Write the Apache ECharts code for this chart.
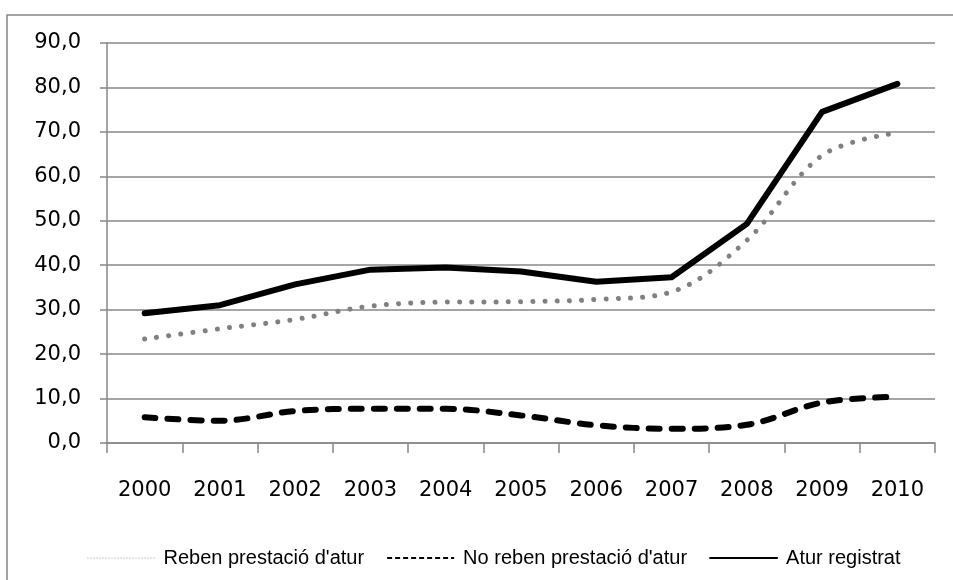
<!DOCTYPE html>
<html>
<head>
<meta charset="utf-8">
<title>Atur registrat 2000-2010</title>
<script src="https://cdn.jsdelivr.net/npm/echarts@6/dist/echarts.min.js"></script>
<style>
  html, body { margin: 0; padding: 0; background: #ffffff; }
  #chart { width: 953px; height: 580px; }
</style>
</head>
<body>
<div id="chart"></div>
<script>
// Years on the category axis
const years = ['2000', '2001', '2002', '2003', '2004', '2005', '2006', '2007', '2008', '2009', '2010'];

// Series values
const rebenPrestacio = [23.4, 25.7, 27.8, 30.8, 31.7, 31.8, 32.3, 34.0, 45.6, 64.7, 69.8];
const noRebenPrestacio = [5.8, 5.0, 7.2, 7.7, 7.7, 6.2, 4.0, 3.2, 4.1, 9.1, 10.4];
const aturRegistrat = [29.2, 31.0, 35.7, 39.0, 39.5, 38.6, 36.3, 37.3, 49.3, 74.5, 80.8];

// Value axis tick labels (comma decimal separator)
const yTickLabels = ['0,0', '10,0', '20,0', '30,0', '40,0', '50,0', '60,0', '70,0', '80,0', '90,0'];

const seriesNames = ["Reben prestació d'atur", "No reben prestació d'atur", 'Atur registrat'];

const gray = '#878787';
const axisFont = 'DejaVu Sans';
// legend samples are plain line strokes, no marker
const noMarker = { color: 'rgba(0,0,0,0)', borderWidth: 0, opacity: 0 };

const chart = echarts.init(document.getElementById('chart'), null, { renderer: 'canvas' });

chart.setOption({
  backgroundColor: '#ffffff',
  animation: false,
  graphic: [{
    type: 'rect',
    silent: true,
    shape: { x: 7, y: 15, width: 960, height: 600 },
    style: { fill: 'none', stroke: gray, lineWidth: 1.5 }
  }],
  grid: { left: 107, right: 18, top: 43, bottom: 137, containLabel: false },
  legend: {
    left: 82,
    top: 543,
    itemWidth: 67,
    itemHeight: 14,
    itemGap: 22,
    textStyle: {
      fontFamily: 'Liberation Sans',
      fontSize: 20,
      color: '#000000',
      padding: [0, 0, 0, 4]
    },
    data: [
      { name: seriesNames[0], itemStyle: noMarker, lineStyle: { color: '#8c8c8c', width: 1, type: [1, 2], cap: 'butt', opacity: 1 } },
      { name: seriesNames[1], itemStyle: noMarker, lineStyle: { color: '#000000', width: 2, type: [5, 3], cap: 'butt', opacity: 1 } },
      { name: seriesNames[2], itemStyle: noMarker, lineStyle: { color: '#000000', width: 2, type: 'solid', opacity: 1 } }
    ]
  },
  xAxis: {
    type: 'category',
    data: years,
    boundaryGap: true,
    axisLine: { show: true, lineStyle: { color: gray, width: 1.5 } },
    axisTick: { show: true, interval: 0, length: 10, lineStyle: { color: gray, width: 1.5 } },
    axisLabel: {
      interval: 0,
      margin: 37,
      fontFamily: axisFont,
      fontSize: 21,
      color: '#000000'
    },
    splitLine: { show: false }
  },
  yAxis: {
    type: 'value',
    min: 0,
    max: 90,
    interval: 10,
    axisLine: { show: true, lineStyle: { color: gray, width: 1.5 } },
    axisTick: { show: true, length: 7, lineStyle: { color: gray, width: 1.5 } },
    axisLabel: {
      margin: 26,
      fontFamily: axisFont,
      fontSize: 21,
      color: '#000000',
      formatter: function (v) { return yTickLabels[Math.round(v / 10)]; }
    },
    splitLine: { show: true, lineStyle: { color: gray, width: 1.5 } }
  },
  series: [
    {
      name: seriesNames[0],
      type: 'line',
      data: rebenPrestacio,
      smooth: 0.35,
      symbol: 'none',
      lineStyle: { color: '#808080', width: 5, type: [0.01, 12.2], cap: 'round' },
      itemStyle: { color: '#808080' },
      z: 3
    },
    {
      name: seriesNames[1],
      type: 'line',
      data: noRebenPrestacio,
      smooth: 0.35,
      symbol: 'none',
      lineStyle: { color: '#000000', width: 6, type: [11, 12], cap: 'round' },
      itemStyle: { color: '#000000' },
      z: 3
    },
    {
      name: seriesNames[2],
      type: 'line',
      data: aturRegistrat,
      smooth: false,
      symbol: 'none',
      lineStyle: { color: '#000000', width: 6, type: 'solid', cap: 'round', join: 'round' },
      itemStyle: { color: '#000000' },
      z: 4
    }
  ]
});
</script>
</body>
</html>
